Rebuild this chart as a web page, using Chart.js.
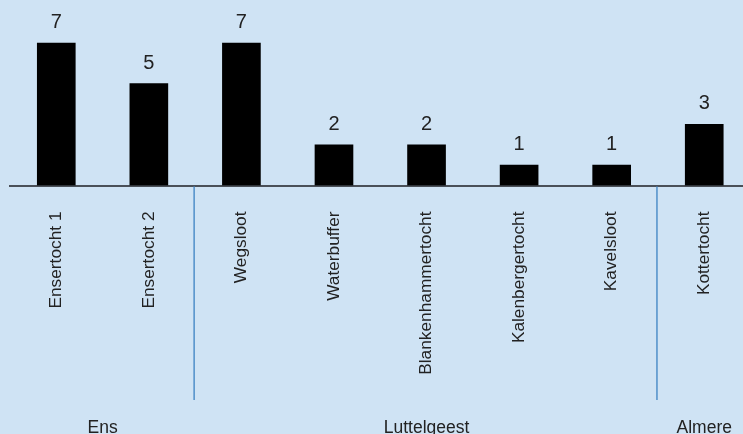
<!DOCTYPE html>
<html>
<head>
<meta charset="utf-8">
<script src="https://cdn.jsdelivr.net/npm/chart.js@4/dist/chart.umd.min.js"></script>
<style>
  html, body { margin: 0; padding: 0; background: #cfe3f4; overflow: hidden; width: 743px; height: 434px; }
  #wrap { position: absolute; left: 0; top: 0; width: 751px; height: 434px; }
  canvas { display: block; }
</style>
</head>
<body>
<div id="wrap"><canvas id="c" width="751" height="434"></canvas></div>
<script>
const categories = ["Ensertocht 1", "Ensertocht 2", "Wegsloot", "Waterbuffer", "Blankenhammertocht", "Kalenbergertocht", "Kavelsloot", "Kottertocht"];
const values = [7, 5, 7, 2, 2, 1, 1, 3];
const groupNames = ["Ens", "Luttelgeest", "Almere"];
const groupStart = [0, 2, 7];
const groupEnd = [1, 6, 7];

const FONT = '"Liberation Sans Narrow", "Liberation Sans", Arial, sans-serif';

const overlay = {
  id: 'overlay',
  afterDatasetsDraw(chart) {
    const ctx = chart.ctx;
    const x = chart.scales.x;
    const meta = chart.getDatasetMeta(0);
    ctx.save();
    ctx.fillStyle = '#222222';
    ctx.textAlign = 'center';
    ctx.textBaseline = 'alphabetic';
    ctx.font = '20px ' + FONT;
    meta.data.forEach((bar, i) => {
      ctx.fillText(String(values[i]), bar.x, bar.y - 15);
    });
    // group labels
    ctx.font = '17.5px ' + FONT;
    groupNames.forEach((g, i) => {
      const cx = (x.getPixelForValue(groupStart[i]) + x.getPixelForValue(groupEnd[i])) / 2;
      ctx.fillText(g, cx, 433);
    });
    // separators
    ctx.strokeStyle = '#4f8fc9';
    ctx.lineWidth = 1.5;
    for (let i = 1; i < groupStart.length; i++) {
      const sx = (x.getPixelForValue(groupStart[i] - 1) + x.getPixelForValue(groupStart[i])) / 2 - 1;
      ctx.beginPath();
      ctx.moveTo(sx, chart.chartArea.bottom + 1);
      ctx.lineTo(sx, 400);
      ctx.stroke();
    }
    ctx.restore();
  }
};

new Chart(document.getElementById('c'), {
  type: 'bar',
  data: {
    labels: categories,
    datasets: [{
      data: values,
      backgroundColor: '#000000',
      borderWidth: 0,
      barThickness: 38
    }]
  },
  options: {
    responsive: false,
    animation: false,
    layout: { padding: { left: 10, right: 0, top: 0, bottom: 0 } },
    plugins: { legend: { display: false }, tooltip: { enabled: false } },
    scales: {
      x: {
        grid: { display: false, drawTicks: false },
        border: { display: true, color: '#4a5058', width: 2 },
        ticks: {
          minRotation: 90, maxRotation: 90,
          padding: 26,
          color: '#222222',
          font: { family: FONT, size: 17.3 }
        },
        afterFit(scale) { scale.height = 248.5; }
      },
      y: {
        display: false,
        min: 0, max: 9.11
      }
    }
  },
  plugins: [overlay]
});
</script>
</body>
</html>
